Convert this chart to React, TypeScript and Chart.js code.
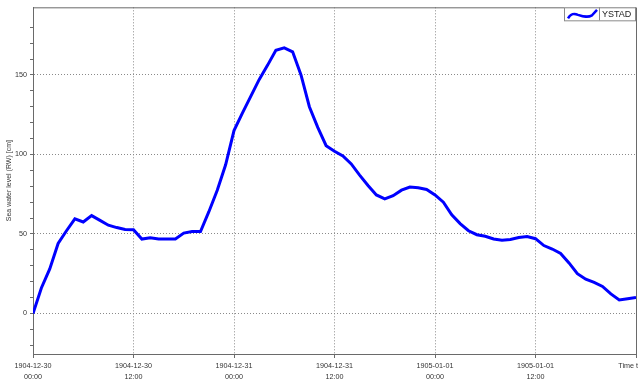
import { useEffect, useRef } from 'react';
import { Chart, registerables } from 'chart.js';

Chart.register(...registerables);

const SERIES_LABEL = 'YSTAD';
const Y_TITLE = 'Sea water level (RW) [cm]';
const TIME_LABEL = 'Time t';

const HOURS = [
  0, 1, 2, 3, 4, 5, 6, 7, 8, 9, 10, 11, 12, 13, 14, 15, 16, 17, 18, 19, 20, 21, 22, 23, 24,
  25, 26, 27, 28, 29, 30, 31, 32, 33, 34, 35, 36, 37, 38, 39, 40, 41, 42, 43, 44, 45, 46, 47, 48,
  49, 50, 51, 52, 53, 54, 55, 56, 57, 58, 59, 60, 61, 62, 63, 64, 65, 66, 67, 68, 69, 70, 71, 72,
];

const LEVELS = [
  0, 16, 28, 44, 52, 59.5, 57.5, 61.5, 58.5, 55.5, 54, 52.8, 52.6, 46.8, 47.6, 46.8, 46.8, 46.8,
  50.5, 51.5, 51.5, 64, 77.5, 93.5, 115, 126, 136.5, 147, 156, 165.5, 167, 164.5, 150, 130, 117,
  105.5, 102, 99, 94, 87, 80.5, 74.5, 72, 74, 77.5, 79.5, 79, 78, 74.5, 70, 62, 56.5, 52, 49.5,
  48.5, 46.8, 46, 46.5, 47.8, 48.4, 47, 42.7, 40.5, 37.7, 31.8, 25, 21.5, 19.5, 17, 12.3, 8.5,
  9.3, 10.1,
];

const TICK_HOURS = [0, 12, 24, 36, 48, 60];
const TICK_DATES = ['1904-12-30', '1904-12-30', '1904-12-31', '1904-12-31', '1905-01-01', '1905-01-01'];
const TICK_TIMES = ['00:00', '12:00', '00:00', '12:00', '00:00', '12:00'];
const Y_LABELS = [0, 50, 100, 150];

const X_MIN = 0;
const X_MAX = 72;
const Y_MIN = -25.5;
const Y_MAX = 192.5;

const LINE_COLOR = '#0000ff';
const AXIS_COLOR = '#6a6a6a';
const GRID_COLOR = '#8a8a8a';
const TEXT_COLOR = '#333333';
const FONT = 'Liberation Sans';

const framePlugin = {
  id: 'frameAndLegend',
  afterDraw(chart: any) {
    const { ctx, chartArea } = chart;
    const { left, right, top, bottom } = chartArea;
    ctx.save();
    ctx.strokeStyle = AXIS_COLOR;
    ctx.lineWidth = 1;
    ctx.beginPath();
    ctx.moveTo(left, top + 0.5);
    ctx.lineTo(right + 0.5, top + 0.5);
    ctx.lineTo(right + 0.5, bottom);
    ctx.stroke();

    // "Time t" label at the end of the time axis
    ctx.fillStyle = TEXT_COLOR;
    ctx.font = `7.2px "${FONT}"`;
    ctx.textAlign = 'right';
    ctx.textBaseline = 'middle';
    ctx.fillText(TIME_LABEL, right + 2, bottom + 12.5);

    // legend box
    const bx = right - 72;
    const by = top;
    const bw = 71;
    const bh = 13;
    const split = bx + 35;
    ctx.fillStyle = '#ffffff';
    ctx.fillRect(bx, by, bw, bh);
    ctx.strokeStyle = '#8a8a8a';
    ctx.lineWidth = 1;
    ctx.strokeRect(bx + 0.5, by + 0.5, bw, bh);
    ctx.beginPath();
    ctx.moveTo(split + 0.5, by);
    ctx.lineTo(split + 0.5, by + bh);
    ctx.stroke();

    ctx.strokeStyle = LINE_COLOR;
    ctx.lineWidth = 2.5;
    ctx.beginPath();
    ctx.moveTo(bx + 4, by + 11);
    ctx.bezierCurveTo(bx + 7, by + 6, bx + 10, by + 6, bx + 14, by + 7.5);
    ctx.bezierCurveTo(bx + 20, by + 9.5, bx + 24, by + 10.5, bx + 28, by + 8);
    ctx.lineTo(bx + 33, by + 2.5);
    ctx.stroke();

    ctx.fillStyle = '#222222';
    ctx.font = `9px "${FONT}"`;
    ctx.textAlign = 'left';
    ctx.textBaseline = 'middle';
    ctx.fillText(SERIES_LABEL, split + 3, by + bh / 2 + 1);
    ctx.restore();
  },
};

export default function App() {
  const canvasRef = useRef<HTMLCanvasElement | null>(null);

  useEffect(() => {
    if (!canvasRef.current) return;
    const points = HOURS.map((h, i) => ({ x: h, y: LEVELS[i] }));
    const chart = new Chart(canvasRef.current, {
      type: 'line',
      data: {
        datasets: [
          {
            label: SERIES_LABEL,
            data: points,
            borderColor: LINE_COLOR,
            backgroundColor: LINE_COLOR,
            borderWidth: 3,
            pointRadius: 0,
            tension: 0,
            fill: false,
          },
        ],
      },
      options: {
        responsive: false,
        animation: false,
        layout: { padding: { left: 0, right: 3, top: 3, bottom: 0 } },
        plugins: {
          legend: { display: false },
          tooltip: { enabled: false },
        },
        scales: {
          x: {
            type: 'linear',
            min: X_MIN,
            max: X_MAX,
            afterFit: (s: any) => {
              s.height = 33;
            },
            ticks: {
              stepSize: 12,
              autoSkip: false,
              maxRotation: 0,
              padding: 2,
              color: TEXT_COLOR,
              font: { family: FONT, size: 7.2, lineHeight: 1.55 },
              callback: (v: any) => {
                const idx = TICK_HOURS.indexOf(Number(v));
                return idx >= 0 ? [TICK_DATES[idx], TICK_TIMES[idx]] : '';
              },
            },
            grid: {
              color: (c: any) => {
                const v = c.tick ? c.tick.value : 0;
                return v > X_MIN && v < X_MAX ? GRID_COLOR : 'rgba(0,0,0,0)';
              },
              lineWidth: 1,
              tickColor: AXIS_COLOR,
              tickLength: 4,
              drawTicks: true,
            },
            border: { display: true, color: AXIS_COLOR, width: 1, dash: [1, 2] },
          },
          y: {
            type: 'linear',
            min: Y_MIN,
            max: Y_MAX,
            afterBuildTicks: (s: any) => {
              s.ticks = s.ticks.filter((t: any) => Math.abs(t.value % 10) < 1e-6);
            },
            afterFit: (s: any) => {
              s.width = 33;
            },
            ticks: {
              stepSize: 10,
              autoSkip: false,
              padding: 3,
              color: TEXT_COLOR,
              font: { family: FONT, size: 7.2 },
              callback: (v: any) => (Y_LABELS.indexOf(Number(v)) >= 0 ? String(v) : ''),
            },
            grid: {
              color: (c: any) => {
                const v = c.tick ? c.tick.value : 0;
                return Y_LABELS.indexOf(v) >= 0 ? GRID_COLOR : 'rgba(0,0,0,0)';
              },
              lineWidth: 1,
              tickColor: AXIS_COLOR,
              tickLength: 3,
              drawTicks: true,
            },
            border: { display: true, color: AXIS_COLOR, width: 1, dash: [1, 2] },
            title: {
              display: true,
              text: Y_TITLE,
              color: TEXT_COLOR,
              font: { family: FONT, size: 7 },
              padding: { top: 5, bottom: 0 },
            },
          },
        },
      },
      plugins: [framePlugin],
    });
    return () => chart.destroy();
  }, []);

  return (
    <div style={{ position: 'absolute', left: 0, top: 0, width: 639, height: 387, background: '#ffffff' }}>
      <canvas ref={canvasRef} width={639} height={387} style={{ display: 'block', width: 639, height: 387 }} />
    </div>
  );
}
